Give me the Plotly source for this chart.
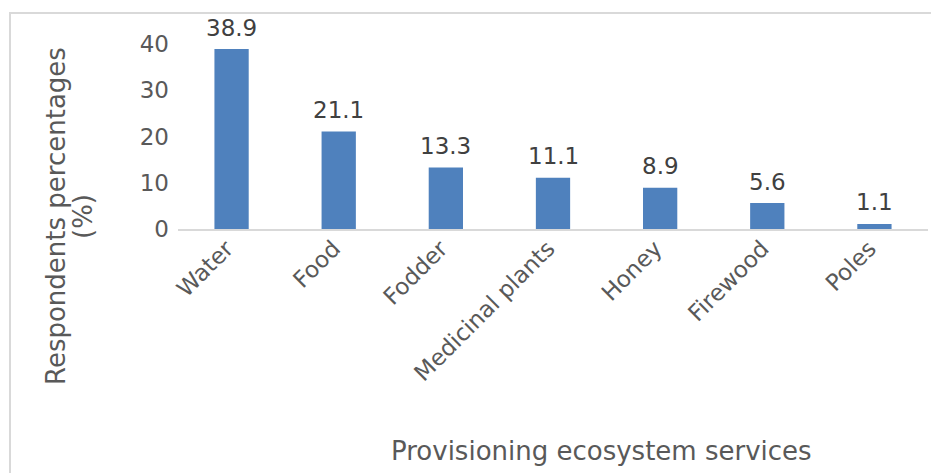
import plotly.graph_objects as go

categories = ["Water", "Food", "Fodder", "Medicinal plants", "Honey", "Firewood", "Poles"]
values = [38.9, 21.1, 13.3, 11.1, 8.9, 5.6, 1.1]
y_ticks = [0, 10, 20, 30, 40]
x_title = "Provisioning ecosystem services"
y_title_lines = ["Respondents percentages", "(%)"]

FONT = "DejaVu Sans"
L, R, T, B = 178, 3, 44, 244
W, H = 931, 473
pw = W - L - R
ph = H - T - B

def px_to_paper_x(px):
    return (px - L) / pw

def px_to_paper_y(py):
    return (T + ph - py) / ph

fig = go.Figure()
fig.add_trace(go.Bar(
    x=categories, y=values,
    marker=dict(color="#4F81BD", line=dict(width=0)),
    cliponaxis=False,
    hoverinfo="skip",
))

# data labels
for c, v in zip(categories, values):
    fig.add_annotation(x=c, y=v, xref="x", yref="y", text=f"{v:.1f}",
                       showarrow=False, xanchor="center", yanchor="middle",
                       yshift=21.5,
                       font=dict(family=FONT, size=23, color="#404040"))

fig.update_layout(
    width=W, height=H,
    margin=dict(l=L, r=R, t=T, b=B, pad=0),
    paper_bgcolor="white", plot_bgcolor="white",
    bargap=0.68,
    showlegend=False,
    font=dict(family=FONT, color="#595959"),
    xaxis=dict(
        showgrid=False, showline=True, linecolor="#D9D9D9", linewidth=2,
        ticks="", tickangle=-45, ticklabelshift=-5, ticklabelstandoff=-5,
        tickfont=dict(family=FONT, size=23, color="#595959"),
        fixedrange=True,
    ),
    yaxis=dict(
        range=[0, 40], tickvals=y_ticks, showgrid=False, zeroline=False,
        showline=False, ticks="", ticklabelstandoff=8,
        tickfont=dict(family=FONT, size=23, color="#595959"),
        fixedrange=True,
    ),
)

# chart border
fig.add_shape(type="rect", xref="paper", yref="paper",
              x0=px_to_paper_x(10), x1=px_to_paper_x(W + 20),
              y0=px_to_paper_y(H + 20), y1=px_to_paper_y(13),
              line=dict(color="#D9D9D9", width=2), layer="below")

# axis titles
fig.add_annotation(text=x_title, xref="paper", yref="paper",
                   x=px_to_paper_x(601), y=px_to_paper_y(451),
                   xanchor="center", yanchor="middle", showarrow=False,
                   font=dict(family=FONT, size=26, color="#595959"))
fig.add_annotation(text=y_title_lines[0], xref="paper", yref="paper",
                   x=px_to_paper_x(56), y=px_to_paper_y(216),
                   xanchor="center", yanchor="middle", showarrow=False, textangle=-90,
                   font=dict(family=FONT, size=26, color="#595959"))
fig.add_annotation(text=y_title_lines[1], xref="paper", yref="paper",
                   x=px_to_paper_x(83), y=px_to_paper_y(216),
                   xanchor="center", yanchor="middle", showarrow=False, textangle=-90,
                   font=dict(family=FONT, size=26, color="#595959"))

fig.write_html("out.html")
